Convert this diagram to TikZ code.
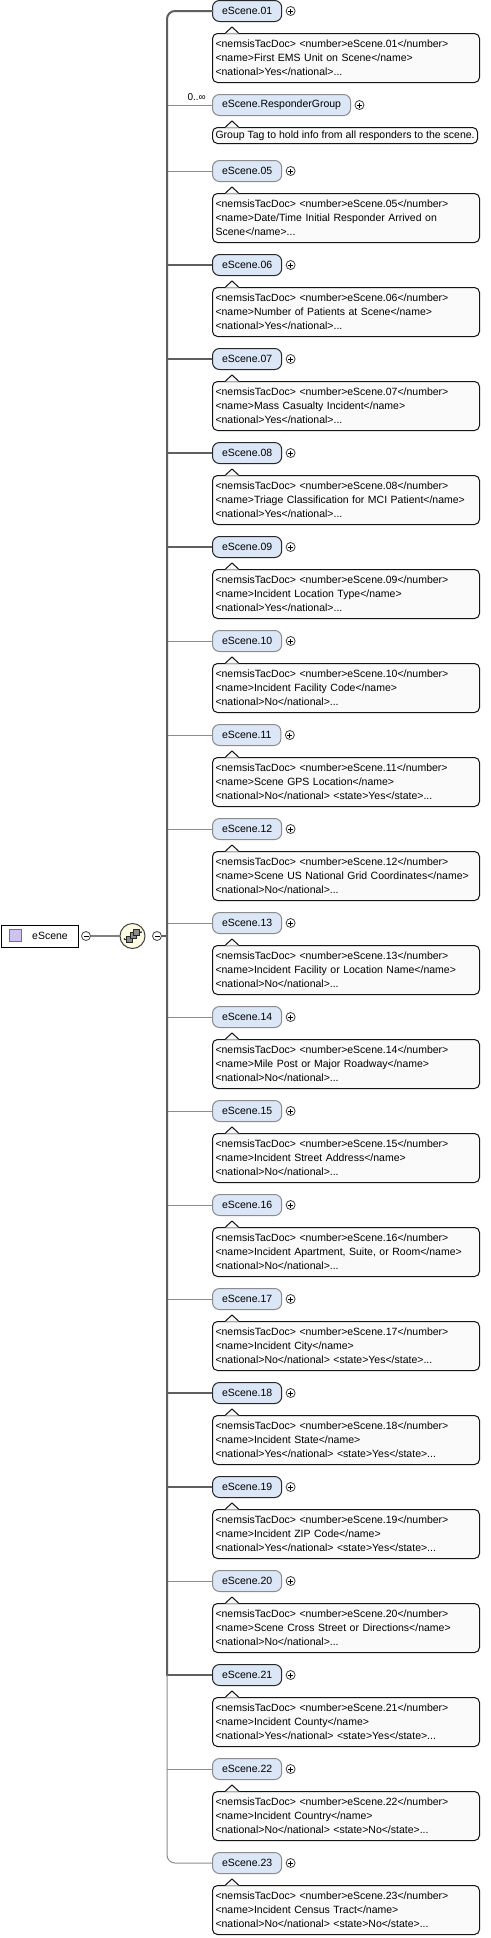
\documentclass[tikz,border=0pt]{standalone}
\usepackage{fontspec}
\setmainfont{Liberation Sans}
\usetikzlibrary{positioning}
\definecolor{eblue}{RGB}{219,230,247}
\definecolor{mborder}{RGB}{40,40,40}
\definecolor{oborder}{RGB}{140,140,140}
\definecolor{afill}{RGB}{250,250,250}
\definecolor{aborder}{RGB}{20,20,20}
\definecolor{thickgray}{RGB}{95,95,95}
\definecolor{thingray}{RGB}{140,140,140}
\definecolor{seqfill}{RGB}{253,251,227}
\definecolor{iconfill}{RGB}{205,195,235}
\definecolor{iconborder}{RGB}{120,105,160}
\definecolor{sqfill}{RGB}{140,140,140}
\tikzset{
 ebox/.style={rectangle, rounded corners=7pt, fill=eblue, minimum height=21pt, inner xsep=9.5pt, inner ysep=0pt, font=\fontsize{10.5}{12}\selectfont, line width=1pt},
 mand/.style={draw=mborder},
 opt/.style={draw=oborder},
 thickc/.style={draw=thickgray, line width=2pt},
 thinc/.style={draw=thingray, line width=1pt},
 annotbase/.style={rectangle, rounded corners=5pt, draw=aborder, fill=afill, line width=1pt, align=left, inner xsep=3pt, inner ysep=0pt, font=\fontsize{10.5}{14}\selectfont},
 annot/.style={annotbase, text width=261pt, minimum height=49pt},
 plusc/.style={circle, draw=black!75, fill=white, line width=0.8pt, minimum size=9pt, inner sep=0pt,
   path picture={\draw[black, line width=0.8pt] ([xshift=-2.5pt]path picture bounding box.center) -- ([xshift=2.5pt]path picture bounding box.center) ([yshift=-2.5pt]path picture bounding box.center) -- ([yshift=2.5pt]path picture bounding box.center);}},
 minusc/.style={circle, draw=black!75, fill=white, line width=0.8pt, minimum size=9pt, inner sep=0pt,
   path picture={\draw[black, line width=0.8pt] ([xshift=-2.5pt]path picture bounding box.center) -- ([xshift=2.5pt]path picture bounding box.center);}},
 rootbox/.style={rectangle, draw=black, fill=white, line width=1pt, minimum width=77pt, minimum height=22pt, inner sep=0pt},
 rooticon/.style={rectangle, draw=iconborder, fill=iconfill, line width=0.8pt, minimum size=12pt, inner sep=0pt},
 seqc/.style={circle, draw=black!75, fill=seqfill, line width=1pt, minimum size=25pt, inner sep=0pt},
 sqicon/.style={rectangle, draw=black!85, fill=sqfill, line width=0.6pt, minimum size=6pt, inner sep=0pt},
 lbl/.style={font=\fontsize{10.5}{12}\selectfont, inner sep=0pt},
 card/.style={font=\fontsize{10}{11}\selectfont, inner sep=1pt},
}
\newcommand{\xelem}[6]{%
 \node[ebox,#4,anchor=west] (e#1) at (212,#3) {#2};
 \node[plusc,right=3.5pt of e#1] (p#1) {};
 \coordinate (s#1) at (167,#3);
 \draw[#5] (s#1) -- (e#1.west);
 \node[annot,anchor=north west] (a#1) at (212,{#3+22}) {#6};
 \fill[afill] (225.5,{#3+22.7}) -- (232,{#3+16}) -- (238.5,{#3+22.7}) -- cycle;
 \draw[aborder,line width=1pt,line join=miter] (225.5,{#3+22}) -- (232,{#3+16}) -- (238.5,{#3+22});
}
\begin{document}
\begin{tikzpicture}[x=1pt,y=-1pt]
\useasboundingbox (0,0) rectangle (490,1938);
\fill[white] (0,0) rectangle (490,1938);

% root element
\node[rootbox,anchor=west] (root) at (0.5,936) {};
\node[rooticon] (ricon) at (15,935.5) {};
\node[lbl,anchor=west] (rootlbl) at (32,936) {eScene};
\node[minusc] (m1) at (86,936) {};
\node[seqc] (seq) at (132.5,936) {};
\draw[draw=gray, line width=2pt] (m1.east) -- (seq.west);
% sequence icon
\node[sqicon] (q1) at (129.5,939) {};
\node[sqicon] (q2) at (133,935.5) {};
\node[sqicon] (q3) at (136.5,932) {};
\draw[black!85, line width=0.8pt] (124.5,939) -- (q1.west);
\draw[black!85, line width=0.8pt] (q3.east) -- (141,932);
\fill[black!85] (124.5,939) circle (1pt);
\fill[black!85] (141,932) circle (1pt);
\node[minusc] (m2) at (157,936) {};
\coordinate (sroot) at (167,936);
\draw[thickc] (m2.east) -- (sroot);

% children
\xelem{01}{eScene.01}{11}{mand}{draw=none}{<nemsisTacDoc> <number>eScene.01</number>\\<name>First EMS Unit on Scene</name>\\<national>Yes</national>...}

% responder group
\node[ebox,opt,anchor=west] (eRG) at (212,105) {eScene.ResponderGroup};
\node[plusc,right=3.5pt of eRG] (pRG) {};
\coordinate (sRG) at (167,105);
\draw[thinc] (sRG) -- (eRG.west);
\node[card,anchor=south east] (cardRG) at (207,102) {0..∞};
\node[annotbase,anchor=north west,minimum height=16pt] (aRG) at (212,127) {Group Tag to hold info from all responders to the scene.};
\fill[afill] (225.5,127.7) -- (232,121) -- (238.5,127.7) -- cycle;
\draw[aborder,line width=1pt,line join=miter] (225.5,127) -- (232,121) -- (238.5,127);

\xelem{05}{eScene.05}{171}{opt}{thinc}{<nemsisTacDoc> <number>eScene.05</number>\\<name>Date/Time Initial Responder Arrived on\\Scene</name>...}
\xelem{06}{eScene.06}{265}{mand}{thickc}{<nemsisTacDoc> <number>eScene.06</number>\\<name>Number of Patients at Scene</name>\\<national>Yes</national>...}
\xelem{07}{eScene.07}{359}{mand}{thickc}{<nemsisTacDoc> <number>eScene.07</number>\\<name>Mass Casualty Incident</name>\\<national>Yes</national>...}
\xelem{08}{eScene.08}{453}{mand}{thickc}{<nemsisTacDoc> <number>eScene.08</number>\\<name>Triage Classification for MCI Patient</name>\\<national>Yes</national>...}
\xelem{09}{eScene.09}{547}{mand}{thickc}{<nemsisTacDoc> <number>eScene.09</number>\\<name>Incident Location Type</name>\\<national>Yes</national>...}
\xelem{10}{eScene.10}{641}{opt}{thinc}{<nemsisTacDoc> <number>eScene.10</number>\\<name>Incident Facility Code</name>\\<national>No</national>...}
\xelem{11}{eScene.11}{735}{opt}{thinc}{<nemsisTacDoc> <number>eScene.11</number>\\<name>Scene GPS Location</name>\\<national>No</national> <state>Yes</state>...}
\xelem{12}{eScene.12}{829}{opt}{thinc}{<nemsisTacDoc> <number>eScene.12</number>\\<name>Scene US National Grid Coordinates</name>\\<national>No</national>...}
\xelem{13}{eScene.13}{923}{opt}{thinc}{<nemsisTacDoc> <number>eScene.13</number>\\<name>Incident Facility or Location Name</name>\\<national>No</national>...}
\xelem{14}{eScene.14}{1017}{opt}{thinc}{<nemsisTacDoc> <number>eScene.14</number>\\<name>Mile Post or Major Roadway</name>\\<national>No</national>...}
\xelem{15}{eScene.15}{1111}{opt}{thinc}{<nemsisTacDoc> <number>eScene.15</number>\\<name>Incident Street Address</name>\\<national>No</national>...}
\xelem{16}{eScene.16}{1205}{opt}{thinc}{<nemsisTacDoc> <number>eScene.16</number>\\<name>Incident Apartment, Suite, or Room</name>\\<national>No</national>...}
\xelem{17}{eScene.17}{1299}{opt}{thinc}{<nemsisTacDoc> <number>eScene.17</number>\\<name>Incident City</name>\\<national>No</national> <state>Yes</state>...}
\xelem{18}{eScene.18}{1393}{mand}{thickc}{<nemsisTacDoc> <number>eScene.18</number>\\<name>Incident State</name>\\<national>Yes</national> <state>Yes</state>...}
\xelem{19}{eScene.19}{1487}{mand}{thickc}{<nemsisTacDoc> <number>eScene.19</number>\\<name>Incident ZIP Code</name>\\<national>Yes</national> <state>Yes</state>...}
\xelem{20}{eScene.20}{1581}{opt}{thinc}{<nemsisTacDoc> <number>eScene.20</number>\\<name>Scene Cross Street or Directions</name>\\<national>No</national>...}
\xelem{21}{eScene.21}{1675}{mand}{thickc}{<nemsisTacDoc> <number>eScene.21</number>\\<name>Incident County</name>\\<national>Yes</national> <state>Yes</state>...}
\xelem{22}{eScene.22}{1769}{opt}{thinc}{<nemsisTacDoc> <number>eScene.22</number>\\<name>Incident Country</name>\\<national>No</national> <state>No</state>...}
\xelem{23}{eScene.23}{1863}{opt}{draw=none}{<nemsisTacDoc> <number>eScene.23</number>\\<name>Incident Census Tract</name>\\<national>No</national> <state>No</state>...}

% spine
\draw[thickc, rounded corners=8pt, line cap=rect] (e01.west) -| (s21);
\draw[thinc, rounded corners=8pt] (s21) |- (e23.west);
\end{tikzpicture}
\end{document}
